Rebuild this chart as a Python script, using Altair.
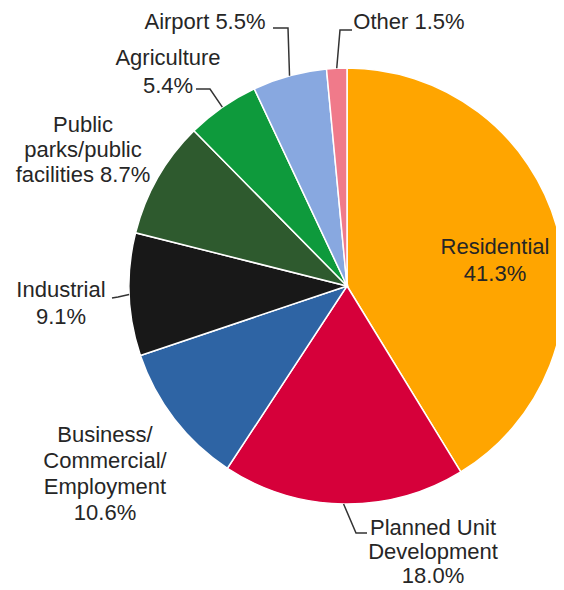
import math
import altair as alt
import pandas as pd

# ---- data ----
categories = [
    "Residential",
    "Planned Unit Development",
    "Business/Commercial/Employment",
    "Industrial",
    "Public parks/public facilities",
    "Agriculture",
    "Airport",
    "Other",
]
shares = [41.3, 18.0, 10.6, 9.1, 8.7, 5.4, 5.5, 1.5]
colors = ["#FFA500", "#D6003A", "#2E64A4", "#181818", "#2E5A2E", "#0E9A3C", "#88A8E0", "#F07A8A"]

# label text lines per category
label_lines = [
    ["Residential", "41.3%"],
    ["Planned Unit", "Development", "18.0%"],
    ["Business/", "Commercial/", "Employment", "10.6%"],
    ["Industrial", "9.1%"],
    ["Public", "parks/public", "facilities 8.7%"],
    ["Agriculture", "5.4%"],
    ["Airport 5.5%"],
    ["Other 1.5%"],
]

# ---- layout (pixels inside the plot area) ----
W, H = 548, 582
CX, CY, R = 339, 278, 218
label_center_x = [487, 425, 97, 53, 75, 160, 197, 401]
label_first_y = [239, 520, 427, 282, 117, 50, 14, 14]
line_step = [27, 24, 26, 27, 25, 28, 25, 25]
# leader elbows after the start point on the pie edge (None = no leader)
leader_elbows = [
    None,
    [(348, 525), (359, 525)],
    None,
    [(110, 289), (104, 290)],
    None,
    [(202, 81), (188, 81)],
    [(280, 20), (265, 20)],
    [(332, 22), (344, 22)],
]

df = pd.DataFrame({"category": categories, "share": shares, "idx": range(len(categories))})

text_rows = []
for i, lines in enumerate(label_lines):
    for j, t in enumerate(lines):
        text_rows.append({"line": t, "x": label_center_x[i], "y": label_first_y[i] + j * line_step[i]})
text_df = pd.DataFrame(text_rows)

total = sum(shares)
cum = 0.0
leader_rows = []
for i, s in enumerate(shares):
    mid = (cum + s / 2) / total * 2 * math.pi
    cum += s
    if leader_elbows[i] is None:
        continue
    ex = CX + R * math.sin(mid)
    ey = CY - R * math.cos(mid)
    pts = [(ex, ey)] + leader_elbows[i]
    for k, (px, py) in enumerate(pts):
        leader_rows.append({"cat": categories[i], "k": k, "x": px, "y": py})
leader_df = pd.DataFrame(leader_rows)

xs = alt.Scale(domain=[0, W], range=[0, W])
ys = alt.Scale(domain=[0, H], range=[0, H])

pie = alt.Chart(df).mark_arc(radius=R, stroke="white", strokeWidth=1.5).encode(
    theta=alt.Theta("share:Q", stack=True),
    color=alt.Color("category:N", scale=alt.Scale(domain=categories, range=colors), legend=None),
    order=alt.Order("idx:Q"),
    x=alt.value(CX),
    y=alt.value(CY),
)

leaders = alt.Chart(leader_df).mark_line(color="#333333", strokeWidth=1.5).encode(
    x=alt.X("x:Q", scale=xs, axis=None),
    y=alt.Y("y:Q", scale=ys, axis=None),
    detail="cat:N",
    order="k:Q",
)

texts = alt.Chart(text_df).mark_text(
    font="Liberation Sans", fontSize=22, color="#262626", align="center", baseline="middle"
).encode(
    x=alt.X("x:Q", scale=xs, axis=None),
    y=alt.Y("y:Q", scale=ys, axis=None),
    text="line:N",
)

chart = alt.layer(pie, leaders, texts).properties(
    width=W, height=H, autosize=alt.AutoSizeParams(type="none"), padding=0
).configure_view(strokeWidth=0)

chart.save("out.html", embed_options={"renderer": "svg", "actions": False})
